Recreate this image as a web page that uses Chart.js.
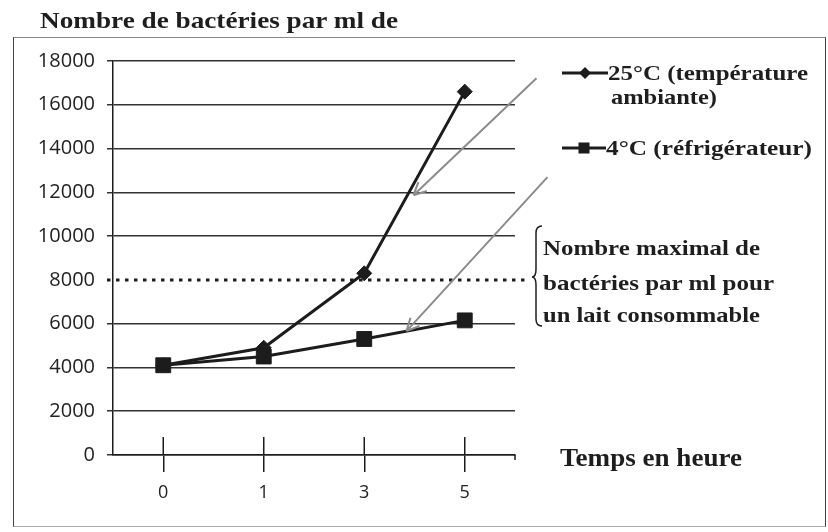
<!DOCTYPE html>
<html>
<head>
<meta charset="utf-8">
<script src="https://cdn.jsdelivr.net/npm/chart.js@4.4.1/dist/chart.umd.min.js"></script>
<style>
  html, body { margin: 0; padding: 0; background: #fff; }
  #wrap { position: relative; width: 828px; height: 532px; overflow: hidden; }
  #frame { position: absolute; left: 13px; top: 37px; width: 811px; height: 488px;
           border: 1.5px solid #444; border-top-color: #888; border-bottom-color: #aaa; }
  canvas { position: absolute; left: 0; top: 0; }
  .t { position: absolute; font-family: "Liberation Serif", "Times New Roman", serif; font-weight: bold;
       color: #1e1e1e; white-space: nowrap; line-height: 1; transform-origin: 0 0; }
</style>
</head>
<body>
<div id="wrap">
  <div id="frame"></div>
  <canvas id="chart" width="828" height="532"></canvas>
  <div class="t" style="left:40px;top:9px;font-size:23px" data-w="358">Nombre de bactéries par ml de</div>
  <div class="t" style="left:608px;top:62px;font-size:22px" data-w="200">25°C (température</div>
  <div class="t" style="left:611px;top:86px;font-size:22px" data-w="106">ambiante)</div>
  <div class="t" style="left:606px;top:137px;font-size:22px" data-w="206">4°C (réfrigérateur)</div>
  <div class="t" style="left:543px;top:237px;font-size:22px" data-w="217">Nombre maximal de</div>
  <div class="t" style="left:543px;top:272px;font-size:22px" data-w="231">bactéries par ml pour</div>
  <div class="t" style="left:543px;top:304px;font-size:22px" data-w="217">un lait consommable</div>
  <div class="t" style="left:560px;top:445px;font-size:26px" data-w="182">Temps en heure</div>
</div>
<script>
// hours after the start
const hours = ['0', '1', '3', '5'];
// bacteria per ml
const warm = [4100, 4900, 8300, 16600];   // 25°C
const cold = [4100, 4500, 5300, 6150];    // 4°C
const yTicks = [0, 2000, 4000, 6000, 8000, 10000, 12000, 14000, 16000, 18000];
const LIMIT = 8000;

const ink = '#1c1c1c';

// widen the labels like the scanned original
function fit() {
  document.querySelectorAll('[data-w]').forEach(el => {
    el.style.transform = 'none';
    const w = el.getBoundingClientRect().width;
    el.style.transform = 'scaleX(' + (+el.dataset.w / w) + ')';
  });
}
fit();

function arrow(ctx, x0, y0, x1, y1) {
  const ang = Math.atan2(y1 - y0, x1 - x0);
  ctx.beginPath();
  ctx.moveTo(x0, y0);
  ctx.lineTo(x1, y1);
  for (const s of [-1, 1]) {
    ctx.moveTo(x1, y1);
    ctx.lineTo(x1 - 14 * Math.cos(ang + s * 0.45), y1 - 14 * Math.sin(ang + s * 0.45));
  }
  ctx.stroke();
}

function along(x, y, data, i, t) {
  const x0 = x.getPixelForValue(i), y0 = y.getPixelForValue(data[i]);
  const x1 = x.getPixelForValue(i + 1), y1 = y.getPixelForValue(data[i + 1]);
  return [x0 + (x1 - x0) * t, y0 + (y1 - y0) * t];
}

const extras = {
  id: 'extras',
  beforeDatasetsDraw(chart) {
    const { ctx, chartArea: a, scales: { x, y } } = chart;
    ctx.save();
    ctx.strokeStyle = ink;
    ctx.lineWidth = 1.5;
    // category ticks cross the axis
    hours.forEach((h, i) => {
      const px = x.getPixelForValue(i);
      ctx.beginPath();
      ctx.moveTo(px, a.bottom - 18);
      ctx.lineTo(px, a.bottom);
      ctx.stroke();
    });
    ctx.beginPath();
    ctx.moveTo(a.right, a.bottom);
    ctx.lineTo(a.right, a.bottom + 5);
    ctx.stroke();
    // limit line
    const ly = y.getPixelForValue(LIMIT);
    ctx.lineWidth = 3;
    ctx.setLineDash([3.5, 5.5]);
    ctx.beginPath();
    ctx.moveTo(a.left - 6, ly);
    ctx.lineTo(a.right + 15, ly);
    ctx.stroke();
    ctx.restore();
  },
  afterDatasetsDraw(chart) {
    const { ctx, chartArea: a, scales: { x, y } } = chart;
    ctx.save();
    // grey arrows from the legend
    ctx.strokeStyle = '#8c8c8c';
    ctx.lineWidth = 2;
    let [tx, ty] = along(x, y, warm, 2, 0.43);
    tx += 6;
    arrow(ctx, tx + 123, ty - 117, tx, ty);
    [tx, ty] = along(x, y, cold, 2, 0.42);
    arrow(ctx, tx + 141, ty - 154, tx, ty);

    // brace
    const ly = y.getPixelForValue(LIMIT) - 3;
    const bx = a.right + 21;
    ctx.strokeStyle = ink;
    ctx.lineWidth = 1.5;
    ctx.beginPath();
    ctx.moveTo(bx + 6, ly - 51);
    ctx.quadraticCurveTo(bx, ly - 51, bx, ly - 44);
    ctx.lineTo(bx, ly - 8);
    ctx.quadraticCurveTo(bx, ly, bx - 4, ly);
    ctx.quadraticCurveTo(bx, ly, bx, ly + 8);
    ctx.lineTo(bx, ly + 42);
    ctx.quadraticCurveTo(bx, ly + 49, bx + 6, ly + 49);
    ctx.stroke();

    // legend keys
    ctx.fillStyle = ink;
    ctx.lineWidth = 3;
    ctx.beginPath();
    ctx.moveTo(562, 73); ctx.lineTo(608, 73);
    ctx.moveTo(562, 148); ctx.lineTo(606, 148);
    ctx.stroke();
    ctx.beginPath();
    ctx.moveTo(585, 67); ctx.lineTo(591, 73); ctx.lineTo(585, 79); ctx.lineTo(579, 73);
    ctx.closePath();
    ctx.fill();
    ctx.fillRect(578.5, 142.5, 11, 11);
    ctx.restore();
  }
};

new Chart(document.getElementById('chart'), {
  type: 'line',
  data: {
    labels: hours,
    datasets: [
      {
        label: '25°C (température ambiante)',
        data: warm,
        order: 2,
        borderColor: ink,
        backgroundColor: ink,
        borderWidth: 3,
        pointStyle: 'rectRot',
        pointRadius: 7.5,
        pointBorderWidth: 1,
        tension: 0
      },
      {
        label: '4°C (réfrigérateur)',
        data: cold,
        order: 1,
        borderColor: ink,
        backgroundColor: ink,
        borderWidth: 3,
        pointStyle: 'rect',
        pointRadius: 10.5,
        pointBorderWidth: 1,
        tension: 0
      }
    ]
  },
  options: {
    responsive: false,
    animation: false,
    layout: { padding: { top: 61, right: 313, left: 0, bottom: 0 } },
    plugins: { legend: { display: false }, tooltip: { enabled: false } },
    scales: {
      x: {
        offset: true,
        grid: { offset: false, drawOnChartArea: false, tickLength: 17, color: ink, lineWidth: 1.5 },
        border: { color: ink, width: 1.5 },
        ticks: { padding: 10, color: '#222', font: { family: 'Open Sans', size: 18 } },
        afterFit: s => { s.height = 77; }
      },
      y: {
        min: 0,
        max: 18000,
        afterBuildTicks: s => { s.ticks = yTicks.map(v => ({ value: v })); },
        ticks: { padding: 12, color: '#222', font: { family: 'Open Sans', size: 20 }, callback: v => String(v) },
        grid: {
          tickLength: 6,
          lineWidth: 1.5,
          color: c => (c.tick && c.tick.value === LIMIT ? 'rgba(0,0,0,0)' : '#333')
        },
        border: { color: ink, width: 1.5 },
        afterFit: s => { s.width = 113; }
      }
    }
  },
  plugins: [extras]
});

if (document.fonts) document.fonts.ready.then(fit);
</script>
</body>
</html>
